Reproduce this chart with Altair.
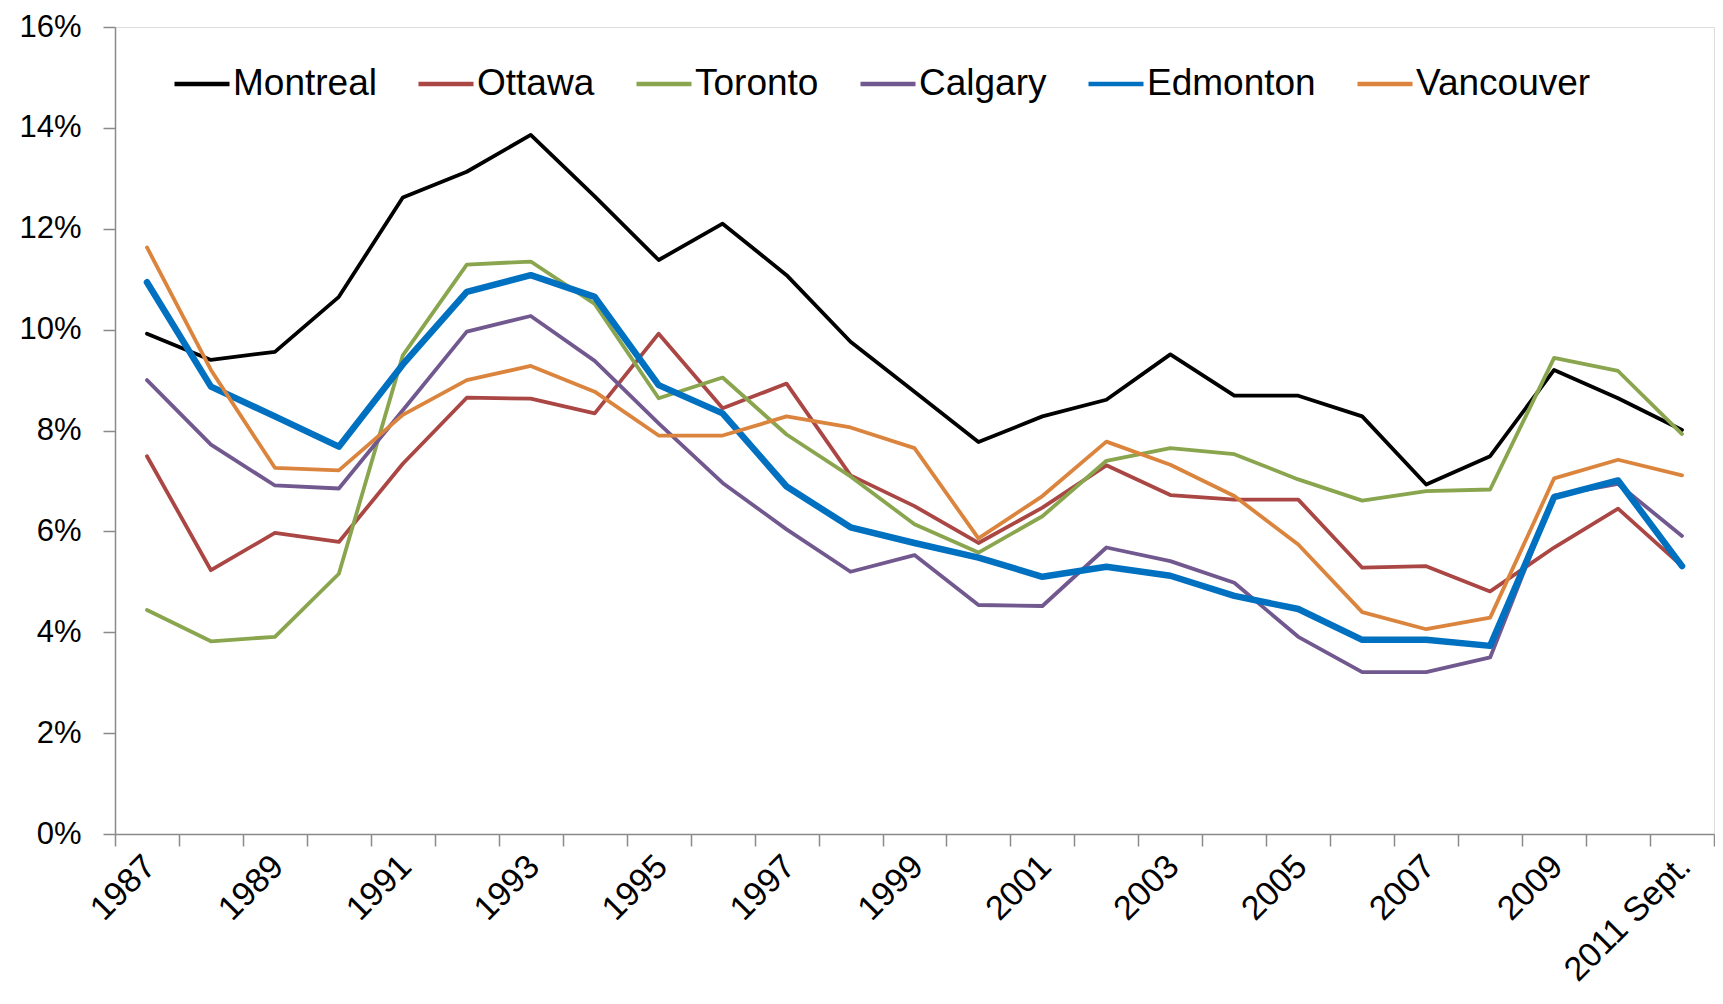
import json
import altair as alt
import pandas as pd

years = ["1987", "1988", "1989", "1990", "1991", "1992", "1993", "1994", "1995",
         "1996", "1997", "1998", "1999", "2000", "2001", "2002", "2003", "2004",
         "2005", "2006", "2007", "2008", "2009", "2010", "2011 Sept."]
shown_labels = ["1987", "1989", "1991", "1993", "1995", "1997", "1999", "2001",
                "2003", "2005", "2007", "2009", "2011 Sept."]

cities = ["Montreal", "Ottawa", "Toronto", "Calgary", "Edmonton", "Vancouver"]

montreal = [9.92, 9.40, 9.56, 10.65, 12.62, 13.13, 13.86, 12.64, 11.38, 12.10, 11.08, 9.76,
            8.77, 7.77, 8.28, 8.61, 9.51, 8.69, 8.69, 8.28, 6.93, 7.49, 9.20, 8.64, 8.01]
ottawa = [7.49, 5.23, 5.97, 5.79, 7.34, 8.65, 8.63, 8.34, 9.92, 8.44, 8.93, 7.11,
          6.50, 5.77, 6.47, 7.31, 6.72, 6.63, 6.63, 5.28, 5.31, 4.81, 5.68, 6.45, 5.31]
toronto = [4.44, 3.82, 3.91, 5.16, 9.49, 11.29, 11.35, 10.51, 8.64, 9.05, 7.92, 7.09,
           6.14, 5.58, 6.30, 7.40, 7.65, 7.53, 7.03, 6.61, 6.80, 6.83, 9.44, 9.18, 7.93]
calgary = [9.00, 7.72, 6.91, 6.85, 8.40, 9.96, 10.27, 9.38, 8.14, 6.96, 6.04, 5.20,
           5.53, 4.54, 4.52, 5.68, 5.41, 4.98, 3.91, 3.21, 3.21, 3.50, 6.71, 6.94, 5.91]
edmonton = [10.94, 8.87, 8.28, 7.68, 9.31, 10.75, 11.08, 10.65, 8.90, 8.34, 6.89, 6.08,
            5.77, 5.48, 5.10, 5.30, 5.12, 4.72, 4.46, 3.85, 3.85, 3.73, 6.68, 7.01, 5.31]
vancouver = [11.63, 9.20, 7.26, 7.21, 8.31, 9.00, 9.28, 8.77, 7.90, 7.90, 8.28, 8.06,
             7.65, 5.86, 6.70, 7.78, 7.32, 6.70, 5.74, 4.40, 4.06, 4.29, 7.05, 7.42, 7.11]

colors = ["#000000", "#AA4643", "#89A54E", "#71588F", "#0070C0", "#DB843D"]
thin_width = 3.8
thick_width = 6.5
thick_city = "Edmonton"

series = [montreal, ottawa, toronto, calgary, edmonton, vancouver]
rows = []
for city, vals in zip(cities, series):
    for yr, v in zip(years, vals):
        rows.append({"city": city, "year": yr, "value": v / 100.0})
df = pd.DataFrame(rows)

FONT = "Liberation Sans"
label_expr = "indexof(" + json.dumps(shown_labels) + ", datum.value) >= 0 ? datum.label : ''"

chart = alt.Chart(df).mark_line(strokeJoin="round", strokeCap="round").encode(
    x=alt.X("year:N", sort=years,
            scale=alt.Scale(type="band", domain=years, paddingInner=0, paddingOuter=0),
            axis=alt.Axis(title=None, labelAngle=-45, labelAlign="right", labelBaseline="top",
                          tickBand="extent", labelExpr=label_expr, labelOffset=-9,
                          tickSize=12, labelPadding=3, labelFontSize=34, labelFont=FONT,
                          labelColor="#000000", domainColor="#8a8a8a", tickColor="#8a8a8a",
                          domainWidth=1.5, tickWidth=1.5, grid=False, labelOverlap=False,
                          labelLimit=400)),
    y=alt.Y("value:Q", scale=alt.Scale(domain=[0, 0.16], nice=False, zero=True),
            axis=alt.Axis(title=None, format=".0%",
                          values=[0, 0.02, 0.04, 0.06, 0.08, 0.10, 0.12, 0.14, 0.16],
                          tickSize=12, labelPadding=22, labelFontSize=31, labelFont=FONT,
                          labelColor="#000000", domainColor="#8a8a8a", tickColor="#8a8a8a",
                          domainWidth=1.5, tickWidth=1.5, grid=False)),
    color=alt.Color("city:N", sort=cities,
                    scale=alt.Scale(domain=cities, range=colors),
                    legend=alt.Legend(title=None, orient="none", legendX=57, legendY=27,
                                      direction="horizontal", symbolType="stroke",
                                      symbolSize=3025, symbolStrokeWidth=4.5,
                                      labelFontSize=37, labelFont=FONT, labelLimit=400,
                                      labelColor="#000000", columnPadding=32, labelOffset=1,
                                      padding=0)),
    strokeWidth=alt.condition(alt.datum.city == thick_city,
                              alt.value(thick_width), alt.value(thin_width)),
).properties(
    width=1599,
    height=807,
    autosize=alt.AutoSizeParams(type="none"),
    padding={"left": 107, "top": 19, "right": 1, "bottom": 156},
).configure_view(
    stroke="#6b6b6b", strokeWidth=1.5
).configure(background="#ffffff")

chart.save("out.html", embed_options={"renderer": "svg", "actions": False})
